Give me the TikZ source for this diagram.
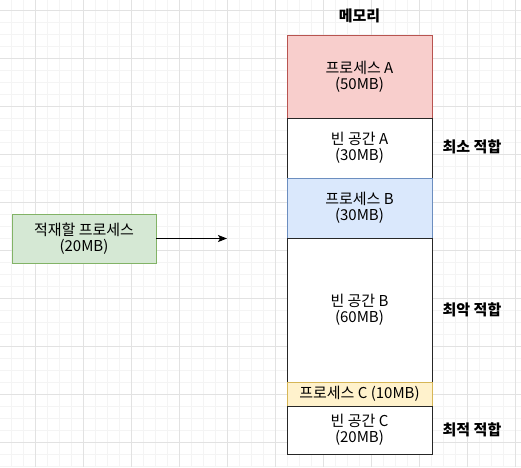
\documentclass[tikz,border=0pt]{standalone}
\usepackage{fontspec}
\setmainfont{Noto Sans CJK KR}
\usepackage{tikz}
\usetikzlibrary{positioning,arrows.meta}

\definecolor{redfill}{HTML}{F8CECC}
\definecolor{redline}{HTML}{B85450}
\definecolor{bluefill}{HTML}{DAE8FC}
\definecolor{blueline}{HTML}{6C8EBF}
\definecolor{yellowfill}{HTML}{FFF2CC}
\definecolor{yellowline}{HTML}{D6B656}
\definecolor{greenfill}{HTML}{D5E8D4}
\definecolor{greenline}{HTML}{82B366}
\definecolor{gridmajor}{HTML}{E2E2E2}
\definecolor{gridminor}{HTML}{F4F4F4}

\tikzset{
	membox/.style={draw, line width=1pt, minimum width=145pt, inner sep=0pt,
	  outer sep=0pt, align=center, font=\fontsize{15}{16}\selectfont},
	freebox/.style={membox, draw=black!85, fill=white},
	fitlabel/.style={font=\fontsize{15}{16}\selectfont\bfseries}
}

\begin{document}
\begin{tikzpicture}[x=1pt, y=-1pt]
	\useasboundingbox (0,0) rectangle (521,467);
	\fill[white] (0,0) rectangle (521,467);
	
	% grid
	\foreach \gx in {11,23,...,515}
	   \draw[gridminor, line width=0.8pt] (\gx,0) -- (\gx,467);
	\foreach \gy in {10,22,...,466}
	   \draw[gridminor, line width=0.8pt] (0,\gy) -- (521,\gy);
	\foreach \gx in {35,83,...,515}
	   \draw[gridmajor, line width=0.8pt] (\gx,0) -- (\gx,467);
	\foreach \gy in {10,58,...,466}
	   \draw[gridmajor, line width=0.8pt] (0,\gy) -- (521,\gy);
	
	% memory column
	\node[membox, draw=redline, fill=redfill, minimum height=83pt, anchor=north]
	   (procA) at (359.5,35) {프로세스 A\\(50MB)};
	\node[freebox, minimum height=60pt, below=0pt of procA]
	   (holeA) {빈 공간 A\\(30MB)};
	\node[membox, draw=blueline, fill=bluefill, minimum height=60pt, below=0pt of holeA]
	   (procB) {프로세스 B\\(30MB)};
	\node[freebox, minimum height=144pt, below=0pt of procB]
	   (holeB) {빈 공간 B\\(60MB)};
	\node[membox, draw=yellowline, fill=yellowfill, minimum height=24pt, below=0pt of holeB]
	   (procC) {프로세스 C (10MB)};
	\node[freebox, minimum height=48pt, below=0pt of procC]
	   (holeC) {빈 공간 C\\(20MB)};
	\node[fitlabel] (memtitle) at (359.5,16) {메모리};
	
	% fit labels
	\node[fitlabel] (bestfit) at (472,147) {최소 적합};
	\node[fitlabel] (worstfit) at (472,310) {최악 적합};
	\node[fitlabel] (firstfit) at (472,430) {최적 적합};
	
	% incoming process
	\node[membox, draw=greenline, fill=greenfill, minimum width=144pt, minimum height=49pt]
	   (newproc) at (84,238.5) {적재할 프로세스\\(20MB)};
	\coordinate (arrowend) at (227,238.5);
	\draw[line width=1pt, -{Stealth[length=9pt, width=7pt, inset=2pt]}]
	   (newproc.east) -- (arrowend);
\end{tikzpicture}
\end{document}
